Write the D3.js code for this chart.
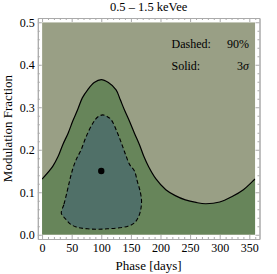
<!DOCTYPE html>
<html>
<head>
<meta charset="utf-8">
<script src="https://cdn.jsdelivr.net/npm/d3@7"></script>
<style>
  html, body { margin: 0; padding: 0; background: #fff; }
  svg { display: block; font-family: "Liberation Serif", "Times New Roman", serif; }
</style>
</head>
<body>
<div id="chart"></div>
<script>
'use strict';

// contour data (phase in days, modulation fraction)
var solidPhase = [0, 18, 27, 35, 44, 52, 60, 68, 77, 88, 100, 112, 125, 132, 139, 148, 156, 165, 172, 180, 192, 209, 225, 242, 260, 276, 300, 321, 340, 355, 360];
var solidFrac  = [0.131, 0.161, 0.184, 0.212, 0.239, 0.268, 0.294, 0.322, 0.341, 0.358, 0.365, 0.358, 0.341, 0.318, 0.294, 0.266, 0.239, 0.210, 0.184, 0.160, 0.132, 0.106, 0.092, 0.082, 0.076, 0.073, 0.077, 0.090, 0.106, 0.125, 0.131];

var dashPhase = [32.5, 37, 41, 45, 49, 53, 58, 66, 74.5, 86, 94, 102.5, 110, 116.5, 127.5, 136, 142, 148, 156, 161, 166, 168, 166, 162, 156, 145, 128, 110, 94, 77, 60.5, 49, 41, 36];
var dashFrac  = [0.051, 0.072, 0.094, 0.118, 0.141, 0.160, 0.178, 0.200, 0.231, 0.263, 0.277, 0.282, 0.278, 0.271, 0.239, 0.208, 0.185, 0.165, 0.150, 0.125, 0.100, 0.078, 0.055, 0.040, 0.028, 0.020, 0.016, 0.014, 0.013, 0.014, 0.017, 0.024, 0.035, 0.043];

var bestPhase = [100];
var bestFrac = [0.15];

var xTicks = [0, 50, 100, 150, 200, 250, 300, 350];
var yTicks = [0, 0.1, 0.2, 0.3, 0.4, 0.5];

var title = '0.5 \u2013 1.5 keVee';
var xLabel = 'Phase [days]';
var yLabel = 'Modulation Fraction';

var width = 277, height = 274;

// frame is padded 2% around the plot range, like Mathematica does
var x = d3.scaleLinear().domain([-7.2, 367.2]).range([37.8, 259.5]);
var y = d3.scaleLinear().domain([-0.01, 0.51]).range([239, 18]);

var svg = d3.select('#chart')
  .append('svg')
  .attr('width', width)
  .attr('height', height);

svg.append('defs').append('clipPath')
  .attr('id', 'plotClip')
  .append('rect')
  .attr('x', x(0))
  .attr('y', y(0.5))
  .attr('width', x(360) - x(0))
  .attr('height', y(0) - y(0.5));

var plot = svg.append('g').attr('clip-path', 'url(#plotClip)');

// outside the 3 sigma region
plot.append('rect')
  .attr('x', x(0))
  .attr('y', y(0.5))
  .attr('width', x(360) - x(0))
  .attr('height', y(0) - y(0.5))
  .attr('fill', '#999f85');

var solid = d3.zip(solidPhase, solidFrac);
var dashed = d3.zip(dashPhase, dashFrac);

// inside 3 sigma
plot.append('path')
  .datum(solid)
  .attr('fill', '#67855a')
  .attr('d', d3.area()
    .x(function(d) { return x(d[0]); })
    .y0(y(0))
    .y1(function(d) { return y(d[1]); })
    .curve(d3.curveCatmullRom));

// inside 90%
plot.append('path')
  .datum(dashed)
  .attr('fill', '#507068')
  .attr('stroke', '#000')
  .attr('stroke-width', 1.1)
  .attr('stroke-dasharray', '4,2.5')
  .attr('d', d3.line()
    .x(function(d) { return x(d[0]); })
    .y(function(d) { return y(d[1]); })
    .curve(d3.curveCatmullRomClosed));

plot.append('path')
  .datum(solid)
  .attr('fill', 'none')
  .attr('stroke', '#000')
  .attr('stroke-width', 1.2)
  .attr('d', d3.line()
    .x(function(d) { return x(d[0]); })
    .y(function(d) { return y(d[1]); })
    .curve(d3.curveCatmullRom));

plot.selectAll('circle.best')
  .data(d3.zip(bestPhase, bestFrac))
  .enter()
  .append('circle')
  .attr('class', 'best')
  .attr('cx', function(d) { return x(d[0]); })
  .attr('cy', function(d) { return y(d[1]); })
  .attr('r', 3.2)
  .attr('fill', '#000');

// frame with inward ticks on all four sides
var minorX = d3.range(0, 361, 10).filter(function(v) { return v % 50 !== 0; });
var minorY = d3.range(0, 0.501, 0.02).filter(function(v) { return Math.abs(v * 10 - Math.round(v * 10)) > 1e-6; });

function styleAxis(g) {
  g.select('.domain').attr('stroke', '#aaa');
  g.selectAll('.tick line').attr('stroke', '#aaa');
  g.selectAll('.tick text')
    .attr('fill', '#000')
    .style('font-size', '12px')
    .style('font-family', '"Liberation Serif", "Times New Roman", serif');
}

var frameB = y.range()[0], frameT = y.range()[1];
var frameL = x.range()[0], frameR = x.range()[1];

svg.append('g')
  .attr('transform', 'translate(0,' + frameB + ')')
  .call(d3.axisBottom(x).tickValues(xTicks).tickSize(-4).tickPadding(4).tickSizeOuter(0))
  .call(styleAxis);
svg.append('g')
  .attr('transform', 'translate(0,' + frameB + ')')
  .call(d3.axisBottom(x).tickValues(minorX).tickSize(-2).tickFormat('').tickSizeOuter(0))
  .call(styleAxis);
svg.append('g')
  .attr('transform', 'translate(0,' + frameT + ')')
  .call(d3.axisTop(x).tickValues(xTicks).tickSize(-4).tickFormat('').tickSizeOuter(0))
  .call(styleAxis);
svg.append('g')
  .attr('transform', 'translate(0,' + frameT + ')')
  .call(d3.axisTop(x).tickValues(minorX).tickSize(-2).tickFormat('').tickSizeOuter(0))
  .call(styleAxis);

svg.append('g')
  .attr('transform', 'translate(' + frameL + ',0)')
  .call(d3.axisLeft(y).tickValues(yTicks).tickSize(-4).tickPadding(3).tickFormat(d3.format('.1f')).tickSizeOuter(0))
  .call(styleAxis);
svg.append('g')
  .attr('transform', 'translate(' + frameL + ',0)')
  .call(d3.axisLeft(y).tickValues(minorY).tickSize(-2).tickFormat('').tickSizeOuter(0))
  .call(styleAxis);
svg.append('g')
  .attr('transform', 'translate(' + frameR + ',0)')
  .call(d3.axisRight(y).tickValues(yTicks).tickSize(-4).tickFormat('').tickSizeOuter(0))
  .call(styleAxis);
svg.append('g')
  .attr('transform', 'translate(' + frameR + ',0)')
  .call(d3.axisRight(y).tickValues(minorY).tickSize(-2).tickFormat('').tickSizeOuter(0))
  .call(styleAxis);

// titles
svg.append('text')
  .attr('x', (frameL + frameR) / 2)
  .attr('y', 11)
  .attr('text-anchor', 'middle')
  .style('font-size', '12.5px')
  .text(title);

svg.append('text')
  .attr('x', (frameL + frameR) / 2)
  .attr('y', 270)
  .attr('text-anchor', 'middle')
  .style('font-size', '13px')
  .text(xLabel);

svg.append('text')
  .attr('transform', 'translate(12,' + ((frameT + frameB) / 2) + ') rotate(-90)')
  .attr('text-anchor', 'middle')
  .style('font-size', '13px')
  .text(yLabel);

// legend
var legend = svg.append('g').style('font-size', '12px');
legend.append('text').attr('x', 171.5).attr('y', 47.5).text('Dashed:');
legend.append('text').attr('x', 249).attr('y', 47.5).attr('text-anchor', 'end').text('90%');
legend.append('text').attr('x', 171.5).attr('y', 70).text('Solid:');
var sig = legend.append('text').attr('x', 249).attr('y', 70).attr('text-anchor', 'end');
sig.append('tspan').text('3');
sig.append('tspan').style('font-style', 'italic').text('\u03c3');
</script>
</body>
</html>
